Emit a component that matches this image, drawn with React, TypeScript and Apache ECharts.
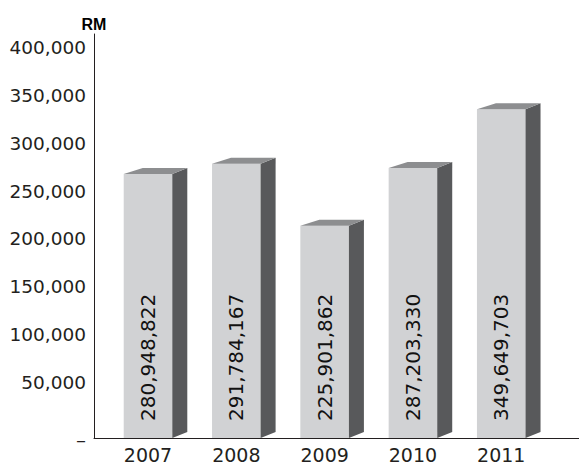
import React, { useEffect, useRef } from "react";
import * as echarts from "echarts";

const years = ["2007", "2008", "2009", "2010", "2011"];
const revenueRM = [280948822, 291784167, 225901862, 287203330, 349649703];
const axisMin = 0;
const axisMax = 400000;
const axisStep = 50000;
const unitLabel = "RM";

const FONT = '"DejaVu Sans", "Liberation Sans", sans-serif';

export default function App() {
  const ref = useRef<HTMLDivElement>(null);

  useEffect(() => {
    if (!ref.current) return;
    const chart = echarts.init(ref.current, undefined, { renderer: "svg" });

    const data = revenueRM.map((v, i) => [i, v / 1000, v]);

    const option: any = {
      animation: false,
      backgroundColor: "#ffffff",
      grid: [
        { left: 94, right: 0, top: 34, bottom: 29 },
        { left: 94, right: 0, top: 47.6, bottom: 37 },
        { left: 103.85, right: 33.6, top: 62, bottom: 29 },
      ],
      xAxis: [
        {
          gridIndex: 0,
          type: "value",
          min: 0,
          max: 1,
          axisLine: { show: true, lineStyle: { color: "#231f20", width: 1 } },
          axisTick: { show: false },
          axisLabel: { show: false },
          splitLine: { show: false },
        },
        { gridIndex: 1, type: "value", min: 0, max: 1, show: false },
        {
          gridIndex: 2,
          type: "category",
          data: years,
          axisLine: { show: false },
          axisTick: { show: false },
          axisLabel: {
            show: true,
            color: "#231f20",
            fontSize: 19,
            fontFamily: FONT,
            margin: 7,
          },
          splitLine: { show: false },
        },
      ],
      yAxis: [
        {
          gridIndex: 0,
          type: "value",
          min: 0,
          max: 1,
          axisLine: { show: true, lineStyle: { color: "#231f20", width: 1 } },
          axisTick: { show: false },
          axisLabel: { show: false },
          splitLine: { show: false },
        },
        {
          gridIndex: 1,
          type: "value",
          min: axisMin,
          max: axisMax,
          interval: axisStep,
          name: unitLabel,
          nameLocation: "end",
          nameGap: 15,
          nameTextStyle: {
            fontFamily: '"Liberation Sans", Arial, sans-serif',
            fontWeight: "bold",
            fontSize: 16,
            color: "#000",
            align: "center",
          },
          axisLine: { show: false },
          axisTick: { show: false },
          splitLine: { show: false },
          axisLabel: {
            color: "#231f20",
            fontSize: 18.5,
            fontFamily: FONT,
            margin: 8,
            formatter: (v: number) =>
              v === 0 ? "{d|–}" : v.toLocaleString("en-US"),
            rich: {
              d: {
                fontSize: 20,
                fontFamily: FONT,
                color: "#231f20",
                padding: [20, 0, 0, 0],
              },
            },
          },
        },
        {
          gridIndex: 2,
          type: "value",
          min: axisMin,
          max: axisMax,
          show: false,
        },
      ],
      series: [
        {
          type: "custom",
          xAxisIndex: 2,
          yAxisIndex: 2,
          data,
          renderItem: (params: any, api: any) => {
            const idx = api.value(0);
            const top = api.coord([idx, api.value(1)]);
            const base = api.coord([idx, 0]);
            const band = api.size([1, 0])[0];
            const w = band * 0.55;
            const x0 = top[0] - w / 2;
            const x1 = top[0] + w / 2;
            const yt = top[1];
            const yb = base[1];
            const dxR = 15;
            const dxL = 19;
            const dy = 6;
            const label = Number(api.value(2)).toLocaleString("en-US");
            return {
              type: "group",
              children: [
                {
                  type: "rect",
                  shape: { x: x0, y: yt, width: w, height: yb - yt },
                  style: { fill: "#d1d2d4" },
                },
                {
                  type: "polygon",
                  shape: {
                    points: [
                      [x1, yt],
                      [x1 + dxR, yt - dy],
                      [x1 + dxR, yb - dy],
                      [x1, yb],
                    ],
                  },
                  style: { fill: "#58595b" },
                },
                {
                  type: "polygon",
                  shape: {
                    points: [
                      [x0, yt],
                      [x1, yt],
                      [x1 + dxR, yt - dy],
                      [x0 + dxL, yt - dy],
                    ],
                  },
                  style: { fill: "#8d8e90" },
                },
                {
                  type: "text",
                  x: top[0],
                  y: yb - 17,
                  rotation: Math.PI / 2,
                  style: {
                    text: label,
                    fill: "#111111",
                    fontSize: 20,
                    fontFamily: FONT,
                    align: "left",
                    verticalAlign: "middle",
                    textAlign: "left",
                    textVerticalAlign: "middle",
                  },
                },
              ],
            };
          },
        },
      ],
    };

    chart.setOption(option);
    return () => chart.dispose();
  }, []);

  return (
    <div
      ref={ref}
      style={{
        position: "absolute",
        left: 0,
        top: 0,
        width: 579,
        height: 467,
        background: "#fff",
      }}
    />
  );
}
